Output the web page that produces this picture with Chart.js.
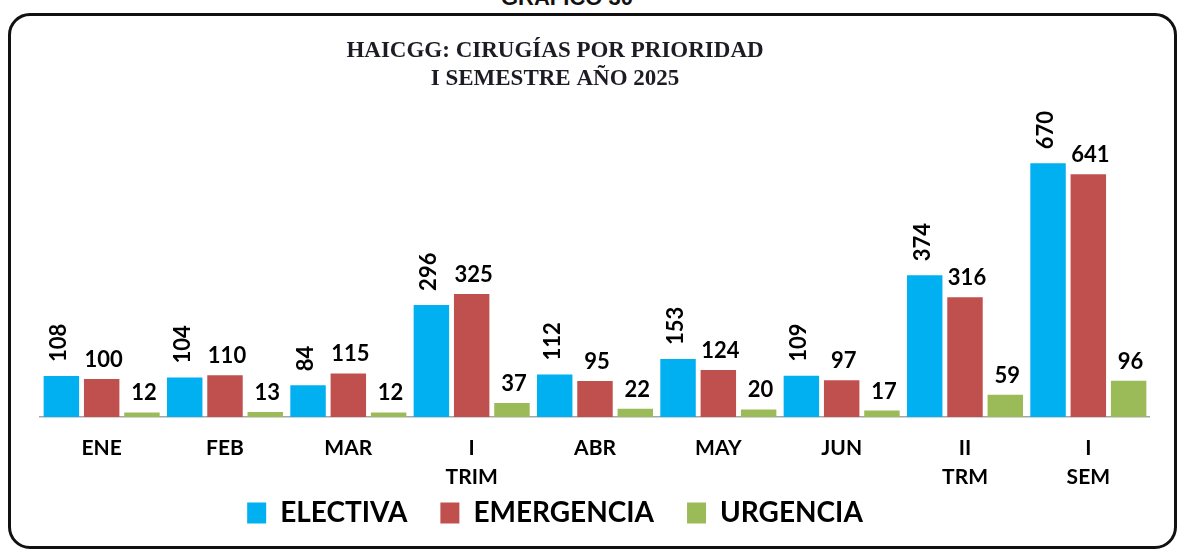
<!DOCTYPE html>
<html>
<head>
<meta charset="utf-8">
<script src="https://cdn.jsdelivr.net/npm/chart.js@4/dist/chart.umd.min.js"></script>
<style>
  html, body { margin: 0; padding: 0; background: #fff; overflow: hidden; }
  #page { position: relative; width: 1178px; height: 549px; overflow: hidden; }
  #frame {
    position: absolute; left: 8px; top: 13px; width: 1163px; height: 530px;
    border: 3px solid #111; border-radius: 22px;
  }
  #caption {
    position: absolute; left: 0; width: 1134px; top: -15px; text-align: center;
    font: bold 22px 'Liberation Sans', sans-serif; color: #111;
  }
  #chart { position: absolute; left: -40px; top: 0; }
</style>
</head>
<body>
<div id="page">
  <div id="frame"></div>
  <div id="caption">GRAFICO 30</div>
  <canvas id="chart" width="1190" height="549"></canvas>
</div>
<script>
/* HAICGG - cirugias por prioridad, I semestre 2025 */

const CATEGORIES = ['ENE', 'FEB', 'MAR', ['I', 'TRIM'], 'ABR', 'MAY', 'JUN', ['II', 'TRM'], ['I', 'SEM']];
const ELECTIVA = [108, 104, 84, 296, 112, 153, 109, 374, 670];
const EMERGENCIA = [100, 110, 115, 325, 95, 124, 97, 316, 641];
const URGENCIA = [12, 13, 12, 37, 22, 20, 17, 59, 96];

const COLORS = {
  electiva: '#00B0F0',
  emergencia: '#C0504D',
  urgencia: '#9BBB59',
};

// value labels: first series rotated, the others flat
const barLabels = {
  id: 'barLabels',
  afterDatasetsDraw(chart) {
    const { ctx } = chart;
    ctx.save();
    ctx.font = 'bold 22px Lato';
    ctx.fillStyle = '#000';
    chart.data.datasets.forEach((ds, i) => {
      chart.getDatasetMeta(i).data.forEach((bar, j) => {
        const txt = String(ds.data[j]);
        if (i === 0) {
          ctx.save();
          ctx.translate(bar.x - 2, bar.y - 14);
          ctx.rotate(-Math.PI / 2);
          ctx.textAlign = 'left';
          ctx.textBaseline = 'middle';
          ctx.fillText(txt, 0, 0);
          ctx.restore();
        } else {
          ctx.textAlign = 'center';
          ctx.textBaseline = 'alphabetic';
          ctx.fillText(txt, bar.x + 2, bar.y - 12);
        }
      });
    });
    ctx.restore();
  },
};

// the x axis is fitted short so the legend sits close under it;
// give its label clip box room for the second line again
const axisRoom = {
  id: 'axisRoom',
  afterLayout(chart) {
    chart.scales.x.bottom += 45;
  },
};

new Chart(document.getElementById('chart'), {
  type: 'bar',
  data: {
    labels: CATEGORIES,
    datasets: [
      { label: 'ELECTIVA', data: ELECTIVA, backgroundColor: COLORS.electiva, borderWidth: 0 },
      { label: 'EMERGENCIA', data: EMERGENCIA, backgroundColor: COLORS.emergencia, borderWidth: 0 },
      { label: 'URGENCIA', data: URGENCIA, backgroundColor: COLORS.urgencia, borderWidth: 0 },
    ],
  },
  options: {
    responsive: false,
    animation: false,
    categoryPercentage: 0.98,
    barPercentage: 0.88,
    layout: { padding: { top: 0, left: 0, right: 0, bottom: 12 } },
    plugins: {
      title: {
        display: true,
        text: ['HAICGG: CIRUGÍAS POR PRIORIDAD', 'I SEMESTRE AÑO 2025'],
        color: '#1c1c24',
        font: { family: 'Liberation Serif', size: 23, weight: 'bold', lineHeight: 1.217 },
        padding: { top: 37, bottom: 21 },
      },
      legend: {
        position: 'bottom',
        labels: {
          color: '#000',
          font: { family: 'Lato', size: 28, weight: 'bold' },
          boxWidth: 19,
          boxHeight: 21,
          padding: 33,
        },
      },
      tooltip: { enabled: false },
    },
    scales: {
      x: {
        grid: { display: false },
        border: { display: true, color: '#A6A6A6', width: 1.5 },
        ticks: {
          color: '#000',
          padding: 9,
          font: { family: 'Lato', size: 21, weight: 'bold', lineHeight: 1.38 },
        },
        afterFit: (scale) => { scale.height = 49; },
      },
      y: {
        min: 0,
        max: 800,
        grid: { display: false },
        border: { display: false },
        ticks: { display: false },
        afterFit: (scale) => { scale.width = 80; },
      },
    },
  },
  plugins: [barLabels, axisRoom],
});
</script>
</body>
</html>
